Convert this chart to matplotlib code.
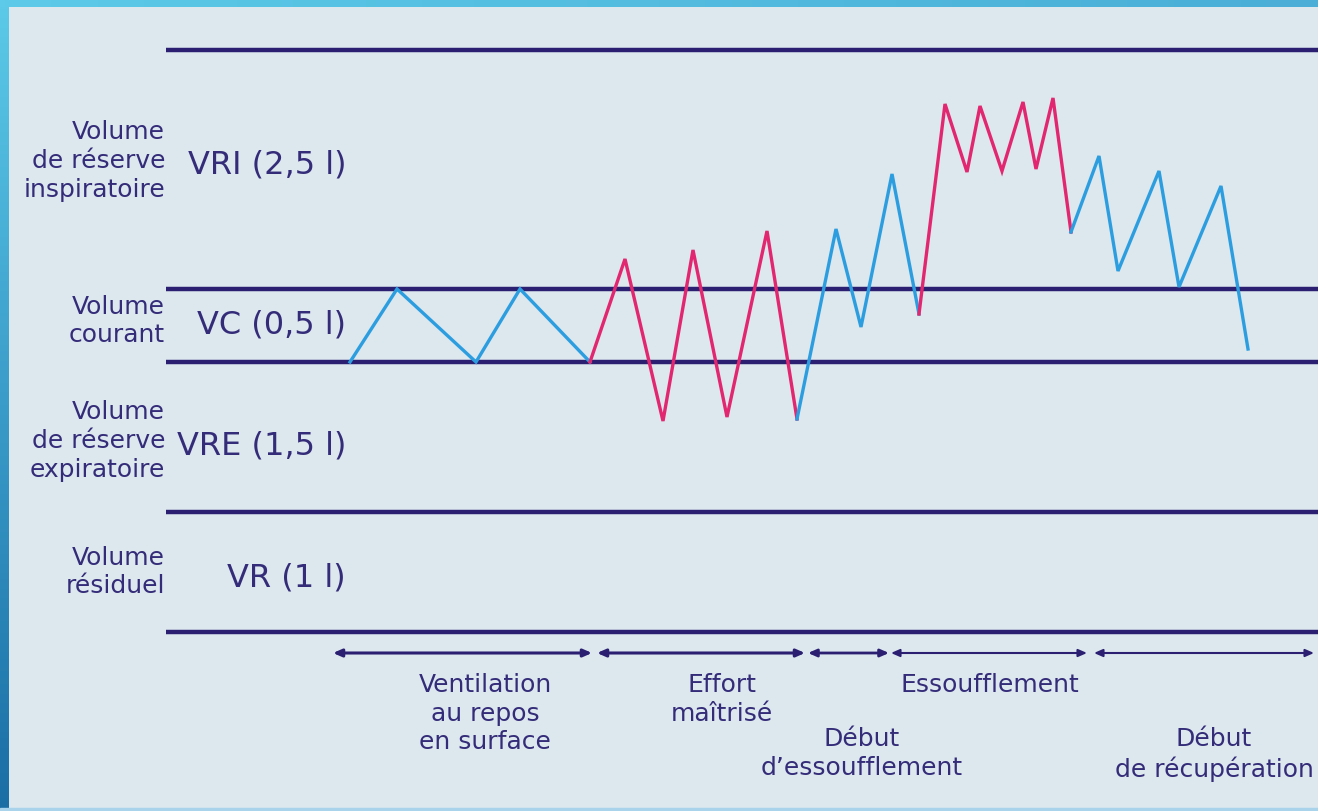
import numpy as np
import matplotlib
matplotlib.use('Agg')
import matplotlib.pyplot as plt

# horizontal level lines (y position in picture units, top = 0)
level_y = [51, 290, 363, 513, 633]

# breathing trace, split in phases (x, y in picture units)
phase_x = [
    [350, 397, 476, 520, 590],
    [590, 625, 663, 693, 727, 767, 797],
    [797, 836, 861, 892, 919],
    [919, 945, 967, 980, 1002, 1023, 1036, 1053, 1071],
    [1071, 1099, 1118, 1159, 1179, 1221, 1248],
]
phase_y = [
    [363, 290, 363, 290, 363],
    [363, 260, 422, 251, 418, 232, 420],
    [420, 230, 328, 175, 315],
    [315, 105, 173, 107, 172, 103, 170, 99, 233],
    [233, 157, 272, 172, 288, 187, 350],
]
phase_color = ['blue', 'pink', 'blue', 'pink', 'blue']

# left labels
vol_names = ['Volume\nde réserve\ninspiratoire', 'Volume\ncourant',
             'Volume\nde réserve\nexpiratoire', 'Volume\nrésiduel']
vol_codes = ['VRI (2,5 l)', 'VC (0,5 l)', 'VRE (1,5 l)', 'VR (1 l)']
vol_name_y = [161, 321, 441, 572]
vol_code_y = [165, 325, 446, 578]

# time spans under the chart
span_start = [333, 597, 808, 891, 1094]
span_end = [592, 805, 889, 1087, 1314]
span_lw = [2.2, 2.2, 2.0, 1.5, 1.5]
span_labels = ['Ventilation\nau repos\nen surface', 'Effort\nmaîtrisé',
               'Début\nd\u2019essoufflement', 'Essoufflement', 'Début\nde récupération']
span_label_x = [485, 722, 862, 990, 1214]
span_label_y = [673, 673, 727, 673, 727]

navy = '#2b1f72'
txt = '#342c78'
colors = {'blue': '#2c9ee0', 'pink': '#e2266f'}

plt.rcParams['font.family'] = ['DejaVu Sans']
fig = plt.figure(figsize=(13.18, 8.12), dpi=100)
fig.patch.set_facecolor('#dce7ee')
ax = fig.add_axes([0, 0, 1, 1])

# frame: top band, left gradient band, thin bottom line
grad = np.linspace(0, 1, 256).reshape(-1, 1)
cm = matplotlib.colors.LinearSegmentedColormap.from_list('b', ['#5ccae8', '#3a9cc9', '#1a6ea4'])
ax.imshow(grad, cmap=cm, extent=(0, 9, 812, 0), aspect='auto', zorder=1)
top = np.linspace(0, 1, 256).reshape(1, -1)
cm2 = matplotlib.colors.LinearSegmentedColormap.from_list('t', ['#5ccae8', '#4aaed6'])
ax.imshow(top, cmap=cm2, extent=(0, 1318, 8, 0), aspect='auto', zorder=1)
ax.axhspan(809, 812, color='#a8d3ea', zorder=1)
ax.set_xlim(0, 1318)
ax.set_ylim(812, 0)
ax.axis('off')

for y in level_y:
    ax.plot([166, 1318], [y, y], color=navy, lw=3.2, solid_capstyle='butt', zorder=2)

for xs, ys, c in zip(phase_x, phase_y, phase_color):
    ax.plot(xs, ys, color=colors[c], lw=2.4, solid_joinstyle='miter', zorder=3)

for name, code, ny, cy in zip(vol_names, vol_codes, vol_name_y, vol_code_y):
    ax.text(165, ny, name, ha='right', va='center', fontsize=18, color=txt,
            linespacing=1.25)
    ax.text(346, cy, code, ha='right', va='center', fontsize=23, color=txt)

for s, e, lw in zip(span_start, span_end, span_lw):
    ax.annotate('', xy=(e, 654), xytext=(s, 654),
                arrowprops=dict(arrowstyle='<|-|>,head_length=0.5,head_width=0.22',
                                color=navy, lw=lw, shrinkA=0, shrinkB=0))

for lab, x, y in zip(span_labels, span_label_x, span_label_y):
    ax.text(x, y, lab, ha='center', va='top', fontsize=18, color=txt,
            linespacing=1.25)

fig.savefig('out.png', dpi=100, facecolor=fig.get_facecolor())
